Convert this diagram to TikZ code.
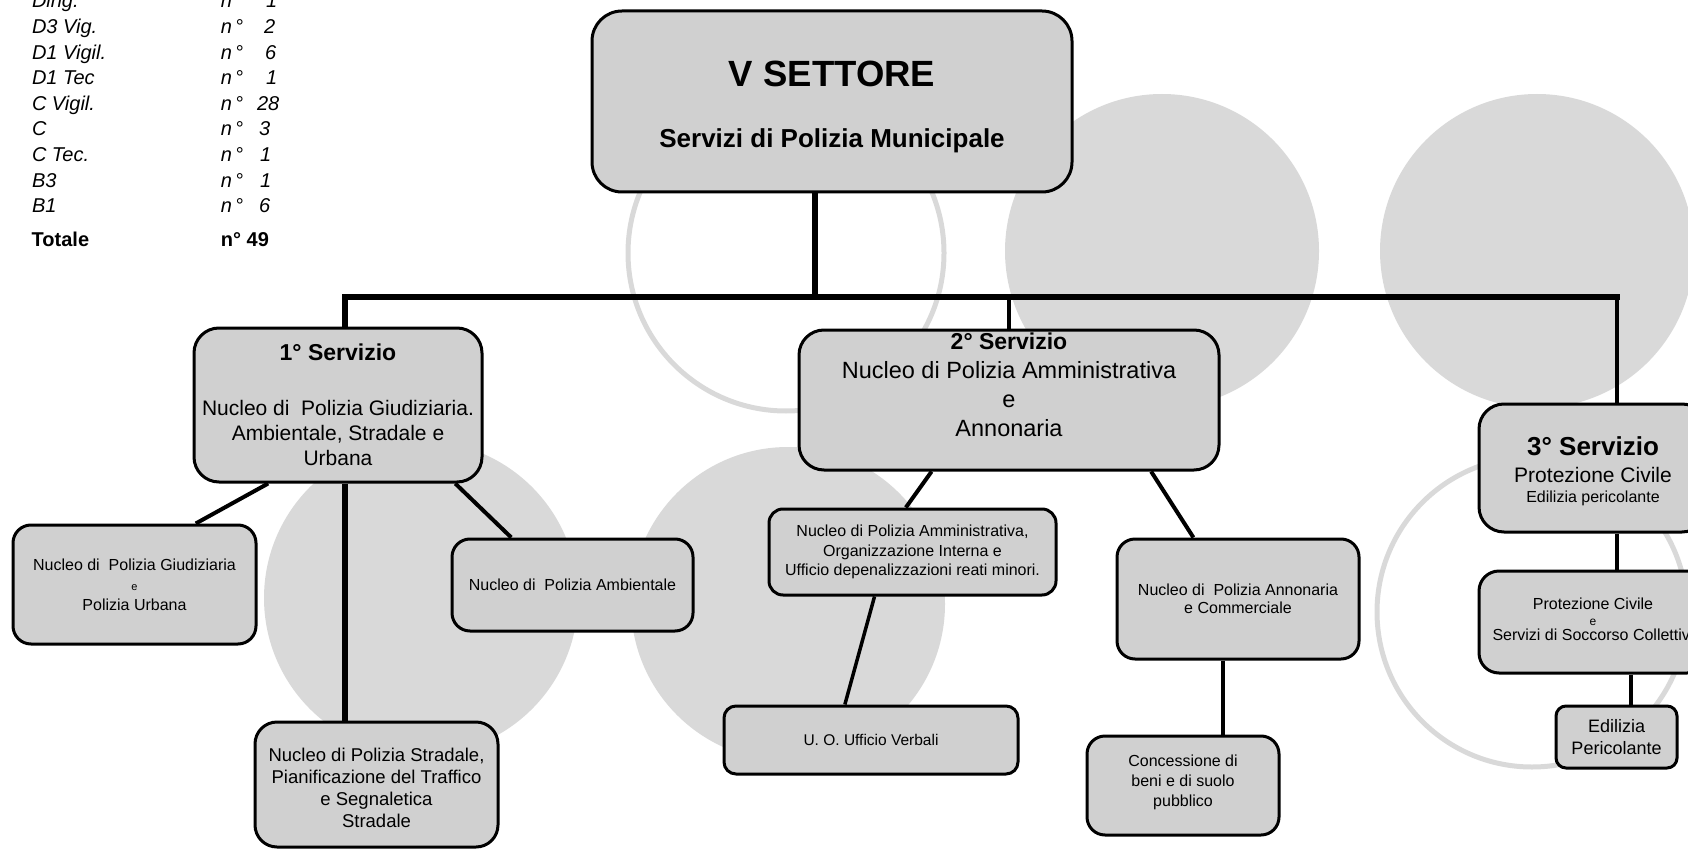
\documentclass[tikz,border=0pt]{standalone}
\usepackage{fontspec}
\setmainfont{Liberation Sans}
\usetikzlibrary{calc}
\definecolor{boxfill}{RGB}{208,208,208}
\definecolor{circfill}{RGB}{217,217,217}
\newcommand{\fsz}[2]{\fontsize{#1pt}{#2pt}\selectfont}
\newcommand{\numdeg}{n\hspace{3pt}°}
\pgfdeclarelayer{bg}
\pgfsetlayers{bg,main}
\tikzset{
  orgbox/.style={draw=black, line width=3pt, fill=boxfill, rounded corners=#1,
    align=center, inner sep=0pt, text=black},
  orgbox/.default=18pt,
  bgdisc/.style={fill=circfill},
  bgring/.style={draw=circfill, line width=5pt},
  mainline/.style={line width=5.5pt},
  linkline/.style={line width=4pt},
  slimline/.style={line width=3.5pt},
  listl/.style={anchor=base west, inner sep=0pt, font=\fsz{20}{24}\itshape},
  listb/.style={anchor=base west, inner sep=0pt, font=\fsz{20}{24}\bfseries},
}
\begin{document}
\begin{tikzpicture}[x=1pt,y=-1pt]
\useasboundingbox (0,0) rectangle (1688,850);

% ---- staff list ----
\node[listl] (l1) at (31.8,8) {Dirig.};
\node[listl] (r1) at (220.7,8) {\numdeg\hspace{23pt}1};
\node[listl] (l2) at (31.8,33.6) {D3 Vig.};
\node[listl] (r2) at (220.7,33.6) {\numdeg\hspace{21pt}2};
\node[listl] (l3) at (31.8,59.2) {D1 Vigil.};
\node[listl] (r3) at (220.7,59.2) {\numdeg\hspace{22pt}6};
\node[listl] (l4) at (31.8,84.8) {D1 Tec};
\node[listl] (r4) at (220.7,84.8) {\numdeg\hspace{23pt}1};
\node[listl] (l5) at (31.8,110.4) {C Vigil.};
\node[listl] (r5) at (220.7,110.4) {\numdeg\hspace{14pt}28};
\node[listl] (l6) at (31.8,136) {C};
\node[listl] (r6) at (220.7,136) {\numdeg\hspace{16pt}3};
\node[listl] (l7) at (31.8,161.6) {C Tec.};
\node[listl] (r7) at (220.7,161.6) {\numdeg\hspace{17pt}1};
\node[listl] (l8) at (31.8,187.2) {B3};
\node[listl] (r8) at (220.7,187.2) {\numdeg\hspace{17pt}1};
\node[listl] (l9) at (31.8,212.8) {B1};
\node[listl] (r9) at (220.7,212.8) {\numdeg\hspace{16pt}6};
\node[listb] (lt) at (31.5,247) {Totale};
\node[listb] (rt) at (220.7,247) {n° 49};

% ---- boxes ----
\node[orgbox=30pt, minimum width=480pt, minimum height=181pt, font=\bfseries\fsz{26}{61}] (top) at (832,101.5)
  {\rule{0pt}{35.5pt}{\fsz{36.5}{61}V SETTORE}\\Servizi di Polizia Municipale};

\node[orgbox=25pt, minimum width=288pt, minimum height=154pt, font=\fsz{21}{25}] (s1) at (338,405)
  {{\bfseries\fsz{23}{25}1° Servizio}\\[30pt]Nucleo di\ \ Polizia Giudiziaria.\\Ambientale, Stradale e\\Urbana};

\node[orgbox=25pt, minimum width=420pt, minimum height=140pt, font=\fsz{23.5}{29}] (s2) at (1009,400)
  {{\bfseries\fsz{23}{29}2° Servizio}\\Nucleo di Polizia Amministrativa\\e\\Annonaria\rule[-30pt]{0pt}{30pt}};

\node[orgbox=25pt, minimum width=228pt, minimum height=128pt, font=\fsz{16}{20}] (s3) at (1593,468)
  {\rule{0pt}{24.4pt}{\bfseries\fsz{26}{20}3° Servizio}\\[7pt]{\fsz{21}{20}Protezione Civile}\\Edilizia pericolante};

\node[orgbox=18pt, minimum width=243pt, minimum height=119pt, font=\fsz{16}{20}] (s11) at (134.5,584.5)
  {Nucleo di\ \ Polizia Giudiziaria\\{\fsz{11}{20}e}\\Polizia Urbana};

\node[orgbox=18pt, minimum width=241pt, minimum height=92pt, font=\fsz{16}{20}] (s12) at (572.5,585)
  {Nucleo di\ \ Polizia Ambientale};

\node[orgbox=22pt, minimum width=243pt, minimum height=125pt, font=\fsz{18.5}{22}] (s13) at (376.5,784.5)
  {\rule{0pt}{21pt}Nucleo di Polizia Stradale,\\Pianificazione del Traffico\\e Segnaletica\\Stradale};

\node[orgbox=14pt, minimum width=287pt, minimum height=86pt, font=\fsz{16}{19.5}] (s21) at (912.5,552)
  {Nucleo di Polizia Amministrativa,\\Organizzazione Interna e\\Ufficio depenalizzazioni reati minori.};

\node[orgbox=12pt, minimum width=294pt, minimum height=68pt, font=\fsz{15.5}{19}] (s22) at (871,740)
  {U. O. Ufficio Verbali};

\node[orgbox=18pt, minimum width=242pt, minimum height=120pt, font=\fsz{16}{18}] (s23) at (1238,599)
  {Nucleo di\ \ Polizia Annonaria\\e Commerciale};

\node[orgbox=18pt, minimum width=192pt, minimum height=99pt, font=\fsz{16}{20}] (s24) at (1183,785.5)
  {Concessione di\\beni e di suolo\\pubblico\rule[-9pt]{0pt}{9pt}};

\node[orgbox=20pt, minimum width=228pt, minimum height=102pt, font=\fsz{16}{15.5}] (s31) at (1593,622)
  {Protezione Civile\\{\fsz{12}{15.5}e}\\Servizi di Soccorso Collettivi\rule[-5pt]{0pt}{5pt}};

\node[orgbox=10pt, minimum width=121pt, minimum height=62pt, font=\fsz{18}{22}] (s32) at (1616.5,737)
  {Edilizia\\Pericolante};

% ---- background and connectors ----
\begin{pgfonlayer}{bg}
  \fill[bgdisc] (1162,251) circle[radius=157];
  \fill[bgdisc] (1537,251) circle[radius=157];
  \fill[bgdisc] (421,598) circle[radius=157];
  \fill[bgdisc] (788,604) circle[radius=157];
  \draw[bgring] (786,253) circle[radius=158];
  \draw[bgring] (1532,612) circle[radius=155];

  \coordinate (j0) at (815,297);
  \coordinate (c1) at (345,297);
  \coordinate (c3) at (1617,297);
  \draw[mainline] (top.south -| j0) -- (j0);
  \draw[mainline, line cap=rect] (c1) -- (c3);
  \draw[mainline] (c1) -- (c1 |- s1.north);
  \draw[slimline] (s2.north |- c1) -- (s2.north);
  \draw[slimline] (c3) -- (c3 |- s3.north);

  \draw[linkline] ($(s1.south west)!0.26!(s1.south east)$) -- ($(s11.north west)!0.749!(s11.north east)$);
  \draw[line width=6pt] (c1 |- s1.south) -- (c1 |- s13.north);
  \draw[linkline] ($(s1.south west)!0.903!(s1.south east)$) -- ($(s12.north west)!0.249!(s12.north east)$);
  \draw[linkline] ($(s2.south west)!0.317!(s2.south east)$) -- ($(s21.north west)!0.477!(s21.north east)$);
  \draw[linkline] ($(s2.south west)!0.836!(s2.south east)$) -- ($(s23.north west)!0.318!(s23.north east)$);
  \draw[slimline] ($(s21.south west)!0.369!(s21.south east)$) -- ($(s22.north west)!0.412!(s22.north east)$);
  \coordinate (k23) at ($(s23.south west)!0.438!(s23.south east)$);
  \draw[linkline] (k23) -- (k23 |- s24.north);
  \draw[linkline] (c3 |- s3.south) -- (c3 |- s31.north);
  \coordinate (k32) at ($(s32.north west)!0.62!(s32.north east)$);
  \draw[linkline] (k32 |- s31.south) -- (k32);
\end{pgfonlayer}
\end{tikzpicture}
\end{document}
